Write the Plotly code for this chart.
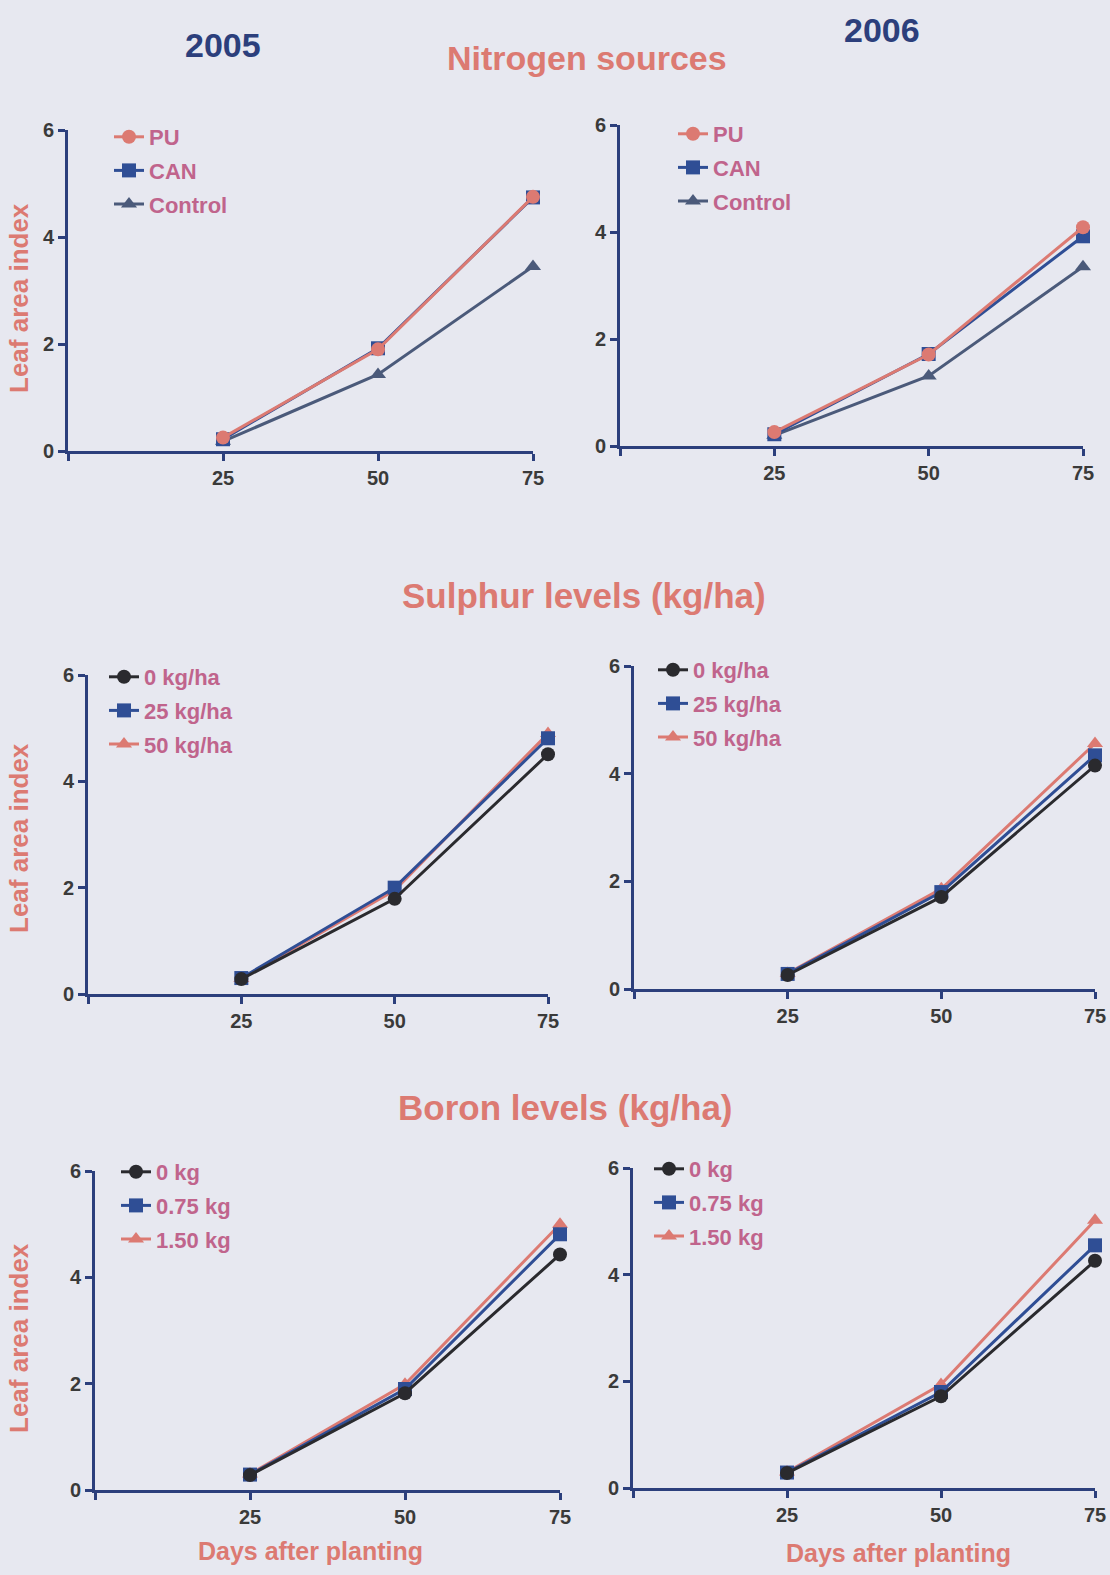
import plotly.graph_objects as go

days = [25, 50, 75]

# Nitrogen sources
n_names = ["PU", "CAN", "Control"]
n_2005_pu = [0.25, 1.90, 4.75]
n_2005_can = [0.22, 1.92, 4.74]
n_2005_control = [0.18, 1.43, 3.45]
n_2006_pu = [0.26, 1.71, 4.09]
n_2006_can = [0.22, 1.72, 3.92]
n_2006_control = [0.20, 1.31, 3.35]

# Sulphur levels
s_names = ["0 kg/ha", "25 kg/ha", "50 kg/ha"]
s_2005_0 = [0.28, 1.79, 4.51]
s_2005_25 = [0.30, 2.00, 4.81]
s_2005_50 = [0.29, 1.95, 4.90]
s_2006_0 = [0.26, 1.71, 4.15]
s_2006_25 = [0.28, 1.80, 4.34]
s_2006_50 = [0.29, 1.86, 4.56]

# Boron levels
b_names = ["0 kg", "0.75 kg", "1.50 kg"]
b_2005_0 = [0.28, 1.82, 4.43]
b_2005_075 = [0.29, 1.90, 4.81]
b_2005_150 = [0.30, 1.99, 5.00]
b_2006_0 = [0.28, 1.72, 4.26]
b_2006_075 = [0.29, 1.80, 4.55]
b_2006_150 = [0.30, 1.94, 5.02]

y_ticks = [0, 2, 4, 6]
x_ticks = [0, 25, 50, 75]
x_tick_labels = ["", "25", "50", "75"]

W, H = 1110, 1575
BG = "#e7e8f0"
NAVY = "#2c3f7c"
SALMON = "#dc7a72"
MAUVE = "#c0648c"
BLACK = "#2a2a2e"
BLUE = "#2f4e95"
SLATE = "#4b5a7a"
FONT = "Liberation Sans, Arial, sans-serif"

# panel pixel geometry: x0, x75, y0, y6
panels = [
    (68, 533, 451, 130),
    (620, 1083, 446, 125),
    (88, 548, 994, 675),
    (634, 1095, 989, 666),
    (95, 560, 1490, 1171),
    (633, 1095, 1488, 1168),
]
legend_pos = [(109, 116), (673, 113), (104, 656), (653, 649), (116, 1151), (649, 1148)]

groups = [
    (n_names, [n_2005_pu, n_2005_can, n_2005_control], [SALMON, BLUE, SLATE]),
    (n_names, [n_2006_pu, n_2006_can, n_2006_control], [SALMON, BLUE, SLATE]),
    (s_names, [s_2005_0, s_2005_25, s_2005_50], [BLACK, BLUE, SALMON]),
    (s_names, [s_2006_0, s_2006_25, s_2006_50], [BLACK, BLUE, SALMON]),
    (b_names, [b_2005_0, b_2005_075, b_2005_150], [BLACK, BLUE, SALMON]),
    (b_names, [b_2006_0, b_2006_075, b_2006_150], [BLACK, BLUE, SALMON]),
]
symbols = ["circle", "square", "triangle-up"]
draw_order = [2, 1, 0]

fig = go.Figure()
layout = {}
for i, ((x0, x75, y0, y6), (names, series, colors)) in enumerate(zip(panels, groups)):
    k = "" if i == 0 else str(i + 1)
    leg = "legend" if i == 0 else f"legend{i + 1}"
    for j in draw_order:
        fig.add_trace(go.Scatter(
            x=days, y=series[j], name=names[j], mode="lines+markers",
            line=dict(color=colors[j], width=3),
            marker=dict(symbol=symbols[j], size=14, color=colors[j]),
            xaxis="x" + k, yaxis="y" + k, legend=leg, legendrank=j + 1,
            legendgroup=f"g{i}_{j}", cliponaxis=False,
        ))
    axis_common = dict(
        showline=True, linecolor=NAVY, linewidth=3,
        ticks="outside", ticklen=7, tickwidth=2.5, tickcolor=NAVY,
        showgrid=False, zeroline=False, automargin=False,
        tickfont=dict(family=FONT, size=20, color="#3a3a3a", weight="bold"),
    )
    layout["xaxis" + k] = dict(domain=[x0 / W, x75 / W], range=[0, 75], anchor="y" + k,
                               tickvals=x_ticks, ticktext=x_tick_labels, **axis_common)
    layout["yaxis" + k] = dict(domain=[1 - y0 / H, 1 - y6 / H], range=[0, 6], anchor="x" + k,
                               tickvals=y_ticks, **axis_common)
    lx, ly = legend_pos[i]
    layout[leg] = dict(
        x=lx / W, y=1 - ly / H, xanchor="left", yanchor="top",
        bgcolor="rgba(0,0,0,0)", itemwidth=30, tracegroupgap=2,
        font=dict(family=FONT, size=22, color=MAUVE, weight="bold"),
    )

annotations = [
    dict(text="2005", x=223, y=45, size=34, color=NAVY),
    dict(text="2006", x=882, y=30, size=34, color=NAVY),
    dict(text="Nitrogen sources", x=587, y=58, size=34, color=SALMON),
    dict(text="Sulphur levels (kg/ha)", x=584, y=595, size=35, color=SALMON),
    dict(text="Boron levels (kg/ha)", x=565, y=1107, size=35, color=SALMON),
    dict(text="Days after planting", x=310, y=1551, size=25, color=SALMON),
    dict(text="Days after planting", x=898, y=1553, size=25, color=SALMON),
]
ann = []
for a in annotations:
    ann.append(dict(text=a["text"], x=a["x"] / W, y=1 - a["y"] / H, xref="paper", yref="paper",
                    showarrow=False, xanchor="center", yanchor="middle",
                    font=dict(family=FONT, size=a["size"], color=a["color"], weight="bold")))
for yc in [298, 838, 1338]:
    ann.append(dict(text="Leaf area index", x=19 / W, y=1 - yc / H, xref="paper", yref="paper",
                    showarrow=False, textangle=-90, xanchor="center", yanchor="middle",
                    font=dict(family=FONT, size=26, color=SALMON, weight="bold")))

fig.update_layout(
    width=W, height=H, margin=dict(l=0, r=0, t=0, b=0, pad=0, autoexpand=False),
    paper_bgcolor=BG, plot_bgcolor=BG, showlegend=True,
    annotations=ann, **layout,
)
fig.write_html(
    "out.html",
    config={"displayModeBar": False},
    post_script="document.body.style.margin='0';document.body.style.background='" + BG + "';",
)
